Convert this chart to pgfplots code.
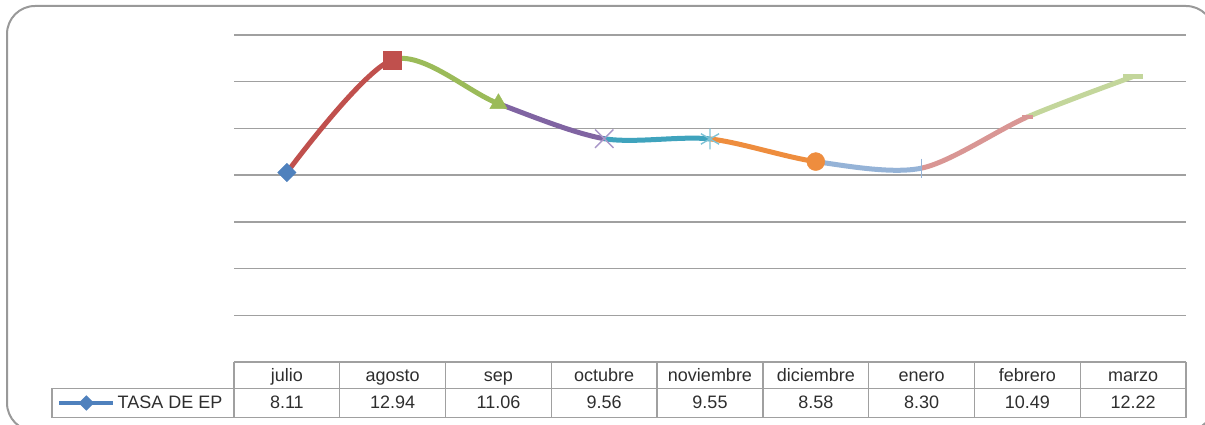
\documentclass[border=0pt]{standalone}
\usepackage{pgfplots}
\pgfplotsset{compat=1.18}
\usepackage{pgfplotstable}
\usepackage{fontspec}
\setmainfont{Liberation Sans}
\definecolor{cA}{HTML}{4F81BD}
\definecolor{cB}{HTML}{C0504D}
\definecolor{cC}{HTML}{9BBB59}
\definecolor{cD}{HTML}{8064A2}
\definecolor{cE}{HTML}{3FA3BD}
\definecolor{cF}{HTML}{EE8D3E}
\definecolor{cG}{HTML}{95B3D7}
\definecolor{cH}{HTML}{D99694}
\definecolor{cI}{HTML}{C3D69B}
\definecolor{mD}{HTML}{A896C8}
\definecolor{mE}{HTML}{7FC3D6}
\definecolor{gridc}{HTML}{A0A0A0}
\definecolor{txt}{HTML}{2E2E2E}
\newcommand\tfont{\fontsize{18}{21.6}\selectfont}

\pgfplotstableread{
x y mes
0 8.11 julio
1 12.94 agosto
2 11.06 sep
3 9.56 octubre
4 9.55 noviembre
5 8.58 diciembre
6 8.30 enero
7 10.49 febrero
8 12.22 marzo
}\datatable

\begin{document}
\begin{tikzpicture}
\useasboundingbox (0pt,0pt) rectangle (1205pt,425pt);
\clip (0pt,0pt) rectangle (1205pt,425pt);
\draw[line width=2pt, color=gray!80, rounded corners=28pt] (7pt,419pt) rectangle (1214pt,-6pt);

% grid + category row
\begin{axis}[at={(234pt,63pt)}, anchor=south west, scale only axis,
  width=952pt, height=327pt,
  xmin=-0.5, xmax=8.5, ymin=0, ymax=14,
  axis line style={draw=none}, tick style={draw=none}, major tick length=0pt,
  ytick={2,4,...,14}, yticklabels={}, ymajorgrids,
  grid style={gridc, line width=1.4pt},
  xtick={0,...,8},
  xticklabels from table={\datatable}{mes},
  xticklabel style={anchor=base, yshift=-20pt, font=\tfont, text=txt},
  clip=false]
\addplot[draw=none, forget plot] coordinates {(0,0)};
\end{axis}

% coloured smooth segments
\foreach \i/\col in {1/cB,2/cC,3/cD,4/cE,5/cF,6/cG,7/cH,8/cI}{
  \pgfmathsetmacro\L{234+(\i-0.5)*105.7778}
  \pgfmathtruncatemacro\a{\i-1}
  \begin{axis}[at={(\L pt,63pt)}, anchor=south west, scale only axis,
    width=105.7778pt, height=327pt, xmin=\a, xmax=\i, ymin=0, ymax=14, hide axis]
    \addplot[color=\col, line width=5pt, smooth, tension=0.5, no markers]
      table[x=x,y=y]{\datatable};
  \end{axis}
}

% markers + values row + legend
\begin{axis}[at={(234pt,63pt)}, anchor=south west, scale only axis,
  width=952pt, height=327pt,
  xmin=-0.5, xmax=8.5, ymin=0, ymax=14,
  axis line style={draw=none}, tick style={draw=none}, major tick length=0pt,
  ytick=\empty,
  xtick={0,...,8},
  xticklabels from table={\datatable}{y},
  xticklabel style={anchor=base, yshift=-46.3pt, font=\tfont, text=txt},
  clip=false,
  legend style={at={(axis description cs:-0.1860,-0.1254)}, anchor=west,
    draw=none, fill=none, inner sep=0pt, font=\tfont, text=txt},
  legend image code/.code={\draw[mark repeat=2,mark phase=2,#1] plot coordinates {(0pt,0pt) (27pt,0pt) (54pt,0pt)};}]
\addlegendimage{color=cA, line width=4.5pt, mark=square*, mark options={rotate=45, mark size=3.2pt, fill=cA, draw=cA}}
\addlegendentry{TASA DE EP}
\addplot[forget plot, scatter, only marks, scatter src=explicit symbolic,
  scatter/classes={
    julio={mark=square*, mark size=6.5pt, fill=cA, draw=cA, rotate=45},
    agosto={mark=square*, mark size=9pt, fill=cB, draw=cB},
    sep={mark=triangle*, mark size=10pt, fill=cC, draw=cC},
    octubre={mark=x, mark size=13pt, draw=mD, line width=1.4pt},
    noviembre={mark=asterisk, mark size=10.5pt, draw=mE, line width=1.4pt},
    diciembre={mark=*, mark size=9pt, fill=cF, draw=cF},
    enero={mark=|, mark size=9.5pt, draw=cG, line width=1.6pt},
    febrero={mark=-, mark size=5.5pt, draw=cH, line width=4.5pt},
    marzo={mark=-, mark size=10pt, draw=cI, line width=5pt}}]
  table[x=x, y=y, meta=mes]{\datatable};
\end{axis}

% data table grid
\begin{scope}[gridc, line width=1.3pt]
\draw (234pt,63pt) -- (1186pt,63pt);
\draw (52pt,36.7pt) -- (1186pt,36.7pt);
\draw (52pt,7.3pt) -- (1186pt,7.3pt);
\draw (52pt,7.3pt) -- (52pt,36.7pt);
\foreach \k in {0,...,9}{
  \draw ({(234+\k*105.7778)*1pt},7.3pt) -- ({(234+\k*105.7778)*1pt},63pt);
}
\end{scope}
\end{tikzpicture}
\end{document}
